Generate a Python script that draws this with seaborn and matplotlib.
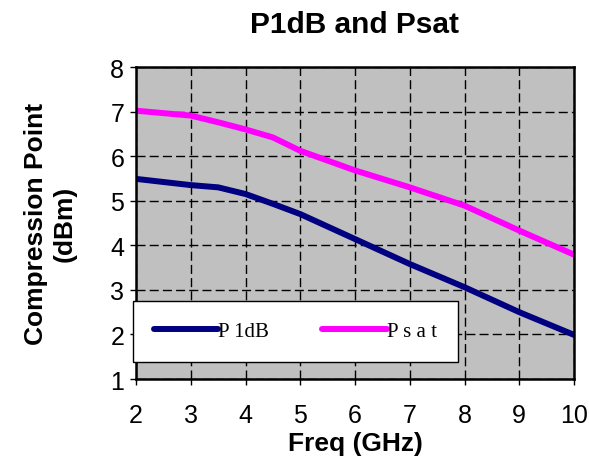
import matplotlib
matplotlib.use("Agg")
import matplotlib.pyplot as plt
import seaborn as sns
import pandas as pd

freq_ghz = [2, 3, 3.5, 4, 4.5, 5, 6, 7, 8, 9, 10]
p1db = [5.49, 5.35, 5.30, 5.15, 4.93, 4.70, 4.14, 3.58, 3.06, 2.50, 1.99]
psat = [7.02, 6.91, 6.76, 6.60, 6.42, 6.12, 5.68, 5.30, 4.89, 4.33, 3.79]
series_labels = ["P 1dB", "P s a t"]
x_ticks = [2, 3, 4, 5, 6, 7, 8, 9, 10]
y_ticks = [1, 2, 3, 4, 5, 6, 7, 8]

df = pd.DataFrame({
    "freq": freq_ghz * 2,
    "value": p1db + psat,
    "series": [series_labels[0]] * len(freq_ghz) + [series_labels[1]] * len(freq_ghz),
})

sns.set_theme(style="white")
plt.rcParams["font.family"] = ["Liberation Sans", "DejaVu Sans"]
plt.rcParams["text.color"] = "black"
plt.rcParams["axes.labelcolor"] = "black"

fig = plt.figure(figsize=(5.89, 4.64), dpi=100)
ax = fig.add_axes([136 / 589, 1 - 380 / 464, 438 / 589, 312 / 464])
ax.set_facecolor("#C0C0C0")

sns.lineplot(data=df, x="freq", y="value", hue="series",
             palette={series_labels[0]: "#000080", series_labels[1]: "#FF00FF"},
             linewidth=4.3, ax=ax, legend=True)

ax.set_xlim(2, 10)
ax.set_ylim(1, 8)
ax.set_xticks(x_ticks)
ax.set_yticks(y_ticks)
ax.grid(True, color="black", linestyle=(0, (6.5, 3)), linewidth=1.0)
ax.set_axisbelow(True)
for s in ax.spines.values():
    s.set_color("black")
    s.set_linewidth(1.8)
ax.tick_params(axis="both", direction="out", length=4.5, width=1, color="black",
               labelsize=18, labelcolor="black", bottom=True, left=True)
ax.tick_params(axis="x", pad=13)
ax.tick_params(axis="y", pad=4)

ax.set_title("P1dB and Psat", fontsize=21.5, fontweight="bold", pad=25, color="black")
ax.set_xlabel("Freq (GHz)", fontsize=19, fontweight="bold", labelpad=3, color="black")
ax.set_ylabel("Compression Point\n(dBm)", fontsize=19, fontweight="bold",
              labelpad=24, linespacing=1.25, color="black")

handles, labels = ax.get_legend_handles_labels()
leg = ax.legend(handles, labels, loc="lower left", ncol=2,
                bbox_to_anchor=(-0.007, 0.054), borderaxespad=0,
                frameon=True, fancybox=False, framealpha=1, edgecolor="black",
                handlelength=3.1, handletextpad=0.0, columnspacing=2.55,
                borderpad=1.0,
                prop={"family": "Liberation Serif", "size": 15})
leg.get_frame().set_linewidth(1.0)
leg.get_frame().set_facecolor("white")
for text in leg.get_texts():
    text.set_color("black")
for line in leg.get_lines():
    line.set_linewidth(4.3)
    line.set_solid_capstyle("round")

fig.savefig("out.png", dpi=100)
